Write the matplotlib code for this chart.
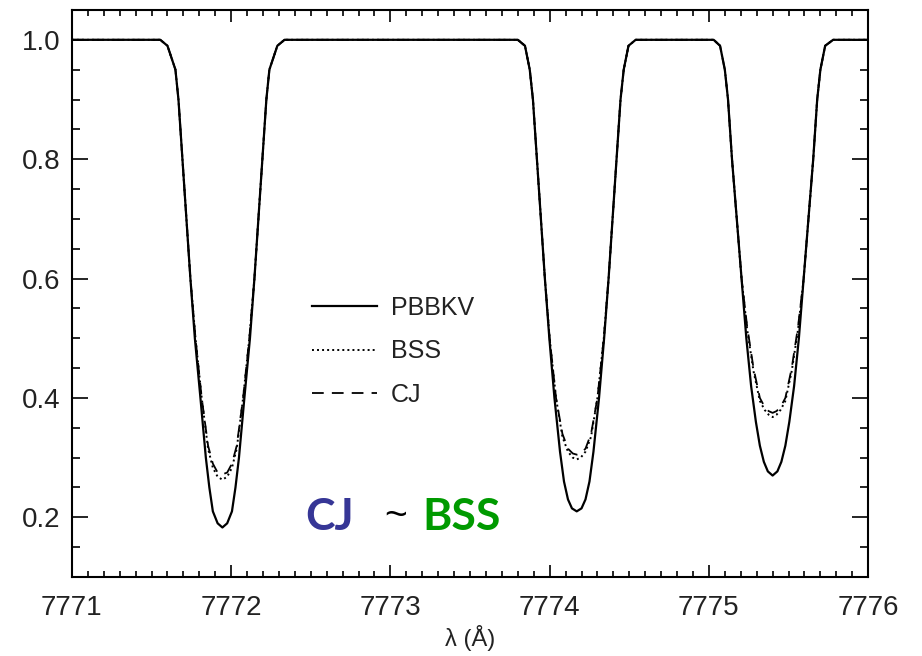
import numpy as np
import matplotlib
matplotlib.use('Agg')
import matplotlib.pyplot as plt
from matplotlib.ticker import MultipleLocator

# continuum limits
wl_start, wl_end = 7771.0, 7776.0

# line 1 (~7771.94), full PBBKV profile
pbbkv_wl_1 = [7771.555, 7771.60, 7771.65, 7771.669, 7771.694, 7771.719, 7771.744, 7771.772,
              7771.807, 7771.841, 7771.863, 7771.885, 7771.915, 7771.945, 7771.975, 7772.005,
              7772.027, 7772.049, 7772.083, 7772.118, 7772.146, 7772.171, 7772.196, 7772.221,
              7772.24, 7772.29, 7772.335]
pbbkv_fx_1 = [1.0, 0.99, 0.95, 0.90, 0.80, 0.70, 0.60, 0.50,
              0.40, 0.30, 0.25, 0.21, 0.19, 0.183, 0.19, 0.21,
              0.25, 0.30, 0.40, 0.50, 0.60, 0.70, 0.80, 0.90,
              0.95, 0.99, 1.0]
core_wl_1 = [7771.744, 7771.776, 7771.815, 7771.855, 7771.885, 7771.915, 7771.945,
             7771.975, 7772.005, 7772.035, 7772.075, 7772.114, 7772.146]
cj_fx_1 = [0.60, 0.50, 0.40, 0.32, 0.29, 0.275, 0.272, 0.275, 0.29, 0.32, 0.40, 0.50, 0.60]
bss_fx_1 = [0.60, 0.50, 0.40, 0.315, 0.283, 0.268, 0.263, 0.268, 0.283, 0.315, 0.40, 0.50, 0.60]

# line 2 (~7774.17)
pbbkv_wl_2 = [7773.80, 7773.845, 7773.875, 7773.895, 7773.92, 7773.945, 7773.97, 7773.998,
              7774.03, 7774.065, 7774.09, 7774.115, 7774.14, 7774.17, 7774.20, 7774.225,
              7774.25, 7774.275, 7774.31, 7774.342, 7774.37, 7774.395, 7774.42, 7774.445,
              7774.465, 7774.495, 7774.54]
pbbkv_fx_2 = [1.0, 0.99, 0.95, 0.90, 0.80, 0.70, 0.60, 0.50,
              0.40, 0.31, 0.26, 0.23, 0.215, 0.21, 0.215, 0.23,
              0.26, 0.31, 0.40, 0.50, 0.60, 0.70, 0.80, 0.90,
              0.95, 0.99, 1.0]
core_wl_2 = [7773.97, 7774.00, 7774.04, 7774.08, 7774.115, 7774.145, 7774.17,
             7774.195, 7774.225, 7774.26, 7774.30, 7774.34, 7774.37]
cj_fx_2 = [0.60, 0.50, 0.40, 0.34, 0.315, 0.307, 0.305, 0.307, 0.315, 0.34, 0.40, 0.50, 0.60]
bss_fx_2 = [0.60, 0.50, 0.40, 0.335, 0.31, 0.30, 0.297, 0.30, 0.31, 0.335, 0.40, 0.50, 0.60]

# line 3 (~7775.40)
pbbkv_wl_3 = [7775.03, 7775.07, 7775.10, 7775.12, 7775.145, 7775.175, 7775.205, 7775.235,
              7775.265, 7775.295, 7775.32, 7775.345, 7775.37, 7775.40, 7775.43, 7775.455,
              7775.48, 7775.505, 7775.535, 7775.565, 7775.595, 7775.625, 7775.655, 7775.68,
              7775.70, 7775.73, 7775.78]
pbbkv_fx_3 = [1.0, 0.99, 0.95, 0.90, 0.80, 0.70, 0.60, 0.50,
              0.42, 0.36, 0.32, 0.293, 0.277, 0.27, 0.277, 0.293,
              0.32, 0.36, 0.42, 0.50, 0.60, 0.70, 0.80, 0.90,
              0.95, 0.99, 1.0]
core_wl_3 = [7775.205, 7775.24, 7775.28, 7775.32, 7775.35, 7775.375, 7775.40,
             7775.425, 7775.45, 7775.48, 7775.52, 7775.56, 7775.595]
cj_fx_3 = [0.60, 0.52, 0.45, 0.40, 0.385, 0.378, 0.375, 0.378, 0.385, 0.40, 0.45, 0.52, 0.60]
bss_fx_3 = [0.60, 0.515, 0.445, 0.395, 0.38, 0.372, 0.368, 0.372, 0.38, 0.395, 0.445, 0.515, 0.60]

lines_pbbkv = [(pbbkv_wl_1, pbbkv_fx_1), (pbbkv_wl_2, pbbkv_fx_2), (pbbkv_wl_3, pbbkv_fx_3)]
core_wls = [core_wl_1, core_wl_2, core_wl_3]


def build(cores=None):
    # stitch continuum + lines; model cores replace the PBBKV core
    wl, fx = [wl_start], [1.0]
    for i, (pw, pf) in enumerate(lines_pbbkv):
        if cores is None:
            wl += pw
            fx += pf
            continue
        cw, cf = core_wls[i], cores[i]
        wl += [w for w in pw if w < cw[0]] + cw + [w for w in pw if w > cw[-1]]
        fx += [f for w, f in zip(pw, pf) if w < cw[0]] + cf + [f for w, f in zip(pw, pf) if w > cw[-1]]
    wl.append(wl_end)
    fx.append(1.0)
    return np.array(wl), np.array(fx)


plt.rcParams['font.family'] = ['Liberation Sans', 'DejaVu Sans']

fig = plt.figure(figsize=(9.22, 6.56), dpi=100)
ax = fig.add_axes([0.078, 0.1204, 0.8636, 0.8644])

x, y = build()
ax.plot(x, y, '-', color='k', lw=1.6, label='PBBKV')
x, y = build([bss_fx_1, bss_fx_2, bss_fx_3])
ax.plot(x, y, color='k', lw=1.4, linestyle=(0, (1, 1.6)), label='BSS')
x, y = build([cj_fx_1, cj_fx_2, cj_fx_3])
ax.plot(x, y, color='k', lw=1.3, linestyle=(0, (6.5, 4.5)), label='CJ')

ax.set_xlim(wl_start, wl_end)
ax.set_ylim(0.1, 1.05)
ax.xaxis.set_minor_locator(MultipleLocator(0.1))
ax.yaxis.set_minor_locator(MultipleLocator(0.05))
ax.set_yticks([0.2, 0.4, 0.6, 0.8, 1.0])
ax.set_yticklabels(['0.2', '0.4', '0.6', '0.8', '1.0'])
ax.set_xticks([7771, 7772, 7773, 7774, 7775, 7776])
ax.set_xticklabels(['7771', '7772', '7773', '7774', '7775', '7776'])

ax.tick_params(which='both', direction='in', top=True, right=True, width=1.2,
               labelsize=20, labelcolor='#222222')
ax.tick_params(axis='x', which='major', length=8.5, pad=13)
ax.tick_params(axis='x', which='minor', length=4)
ax.tick_params(axis='y', which='major', length=11.5, pad=8)
ax.tick_params(axis='y', which='minor', length=6)
for s in ax.spines.values():
    s.set_linewidth(1.5)

ax.set_xlabel('λ (Å)', fontsize=17, labelpad=3, color='#222222')

leg = ax.legend(loc='upper left', bbox_to_anchor=(0.3015, 0.496), frameon=False, fontsize=18,
                handlelength=2.6, handletextpad=0.55, labelspacing=0.78, borderpad=0, borderaxespad=0)
for t in leg.get_texts():
    t.set_color('#222222')

# coloured note
note_font = dict(family=['Lato', 'DejaVu Sans'], fontweight='bold', fontsize=32)
ax.text(7772.465, 0.178, 'CJ', color='#363696', ha='left', va='baseline', **note_font)
ax.text(7772.96, 0.200, '~', color='k', ha='left', va='center', fontsize=28,
        family=['Liberation Sans', 'DejaVu Sans'])
ax.text(7773.20, 0.178, 'BSS', color='#009a00', ha='left', va='baseline', **note_font)

fig.savefig('out.png', dpi=100)
